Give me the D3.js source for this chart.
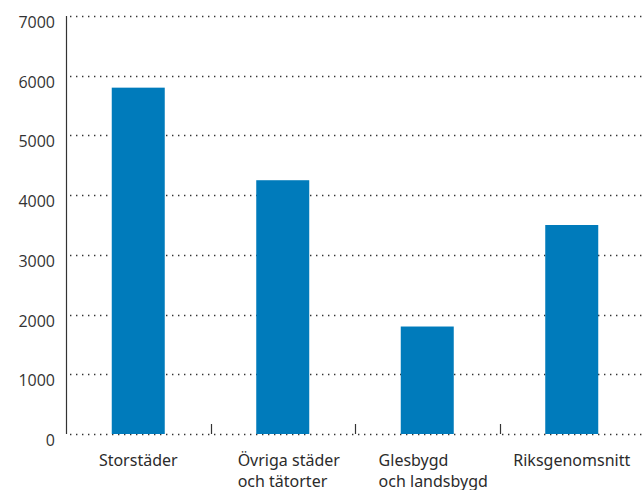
<!DOCTYPE html>
<html>
<head>
<meta charset="utf-8">
<script src="https://cdn.jsdelivr.net/npm/d3@7"></script>
<style>
  body { margin: 0; background: #fff; }
  text { fill: #2b2b2b; }
</style>
</head>
<body>
<script>
// data
const categories = [["Storstäder"], ["Övriga städer", "och tätorter"], ["Glesbygd", "och landsbygd"], ["Riksgenomsnitt"]];
const values = [5800, 4250, 1800, 3500];
const yTicks = [0, 1000, 2000, 3000, 4000, 5000, 6000, 7000];

const width = 644, height = 490;
const plotLeft = 66, plotRight = 644, plotTop = 16, plotBottom = 434;
const barWidth = 53;

const svg = d3.select("body").append("svg")
    .attr("width", width)
    .attr("height", height);

const x = d3.scaleBand()
    .domain(d3.range(categories.length))
    .range([plotLeft, plotRight]);

const y = d3.scaleLinear()
    .domain([0, 7000])
    .range([plotBottom, plotTop]);

// dotted grid lines
svg.append("g")
    .selectAll("line")
    .data(yTicks)
    .enter()
    .append("line")
    .attr("x1", plotLeft + 4)
    .attr("x2", plotRight)
    .attr("y1", d => Math.round(y(d)) + 0.5)
    .attr("y2", d => Math.round(y(d)) + 0.5)
    .attr("stroke", "#333")
    .attr("stroke-width", 1.4)
    .attr("stroke-dasharray", "1.4,4.6");

// y labels
svg.append("g")
    .selectAll("text")
    .data(yTicks)
    .enter()
    .append("text")
    .attr("x", 55)
    .attr("y", d => y(d) + 12)
    .attr("text-anchor", "end")
    .style("font-family", "Open Sans")
    .style("font-size", "16px")
    .style("fill", "#333")
    .text(d => d);

// bars
svg.append("g")
    .selectAll("rect")
    .data(values)
    .enter()
    .append("rect")
    .attr("x", (d, i) => x(i) + (x.bandwidth() - barWidth) / 2)
    .attr("y", d => y(d))
    .attr("width", barWidth)
    .attr("height", d => y(0) - y(d))
    .attr("fill", "#007bbb");

// y axis line
svg.append("line")
    .attr("x1", plotLeft + 0.5)
    .attr("x2", plotLeft + 0.5)
    .attr("y1", plotTop)
    .attr("y2", plotBottom)
    .attr("stroke", "#333")
    .attr("stroke-width", 1.2);

// small ticks between categories
svg.append("g")
    .selectAll("line")
    .data(d3.range(1, categories.length))
    .enter()
    .append("line")
    .attr("x1", d => Math.round(x(d)) + 0.5)
    .attr("x2", d => Math.round(x(d)) + 0.5)
    .attr("y1", plotBottom - 10)
    .attr("y2", plotBottom)
    .attr("stroke", "#333")
    .attr("stroke-width", 1.2);

// category labels, left aligned block centered on band
const labels = svg.append("g")
    .selectAll("text")
    .data(categories)
    .enter()
    .append("text")
    .style("font-family", "Noto Sans")
    .style("font-size", "16px");

labels.each(function(lines, i) {
    const t = d3.select(this);
    lines.forEach((s, j) => {
        t.append("tspan")
            .attr("y", 466 + j * 21)
            .text(s);
    });
    const w = d3.max(t.selectAll("tspan").nodes(), n => n.getComputedTextLength());
    const x0 = x(i) + x.bandwidth() / 2 - w / 2 + (lines.length > 1 ? 6 : 0);
    t.selectAll("tspan").attr("x", x0);
});
</script>
</body>
</html>
